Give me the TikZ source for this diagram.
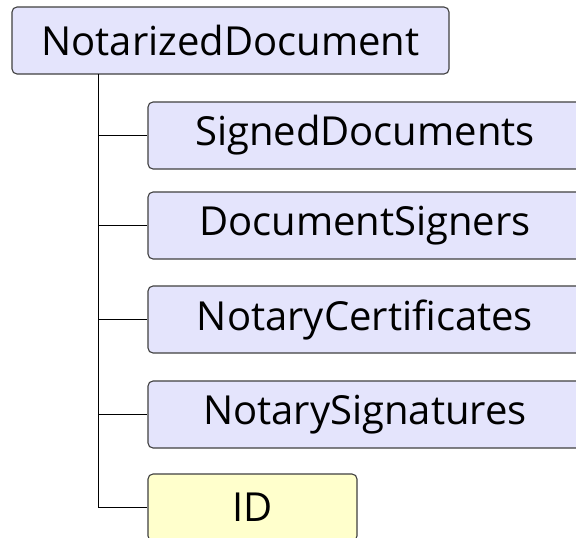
\documentclass[tikz,border=0pt]{standalone}
\usepackage{fontspec}
\setmainfont{Open Sans}
\definecolor{boxfill}{HTML}{E4E4FC}
\definecolor{keyfill}{HTML}{FFFFCC}
\definecolor{boxline}{HTML}{404040}
\begin{document}
\begin{tikzpicture}[x=1pt,y=-1pt,
  entity/.style={draw=boxline, line width=1.1pt, fill=boxfill, rounded corners=5pt,
    minimum height=67pt, inner sep=0pt, font=\fontsize{40}{44}\selectfont},
  keyentity/.style={entity, fill=keyfill},
  link/.style={draw=black, line width=1pt}]
  \useasboundingbox (0,0) rectangle (576,538);
  \clip (0,0) rectangle (576,538);
  \fill[white] (0,0) rectangle (576,538);

  % parent element
  \node[entity, minimum width=437pt] (root) at (230.5,40.5) {NotarizedDocument};

  % child elements
  \node[entity, minimum width=434pt] (signed) at (365,135.5) {SignedDocuments};
  \node[entity, minimum width=434pt] (signers) at (365,225.5) {DocumentSigners};
  \node[entity, minimum width=434pt] (certs) at (365,319.5) {NotaryCertificates};
  \node[entity, minimum width=434pt] (sigs) at (365,414.5) {NotarySignatures};
  \node[keyentity, minimum width=209pt] (id) at (252.5,507.5) {ID};

  % tree connectors
  \coordinate (trunk) at (98,74);
  \draw[link] (trunk) |- (id.west);
  \foreach \c in {signed,signers,certs,sigs}
    \draw[link] (trunk |- \c.west) -- (\c.west);
\end{tikzpicture}
\end{document}
